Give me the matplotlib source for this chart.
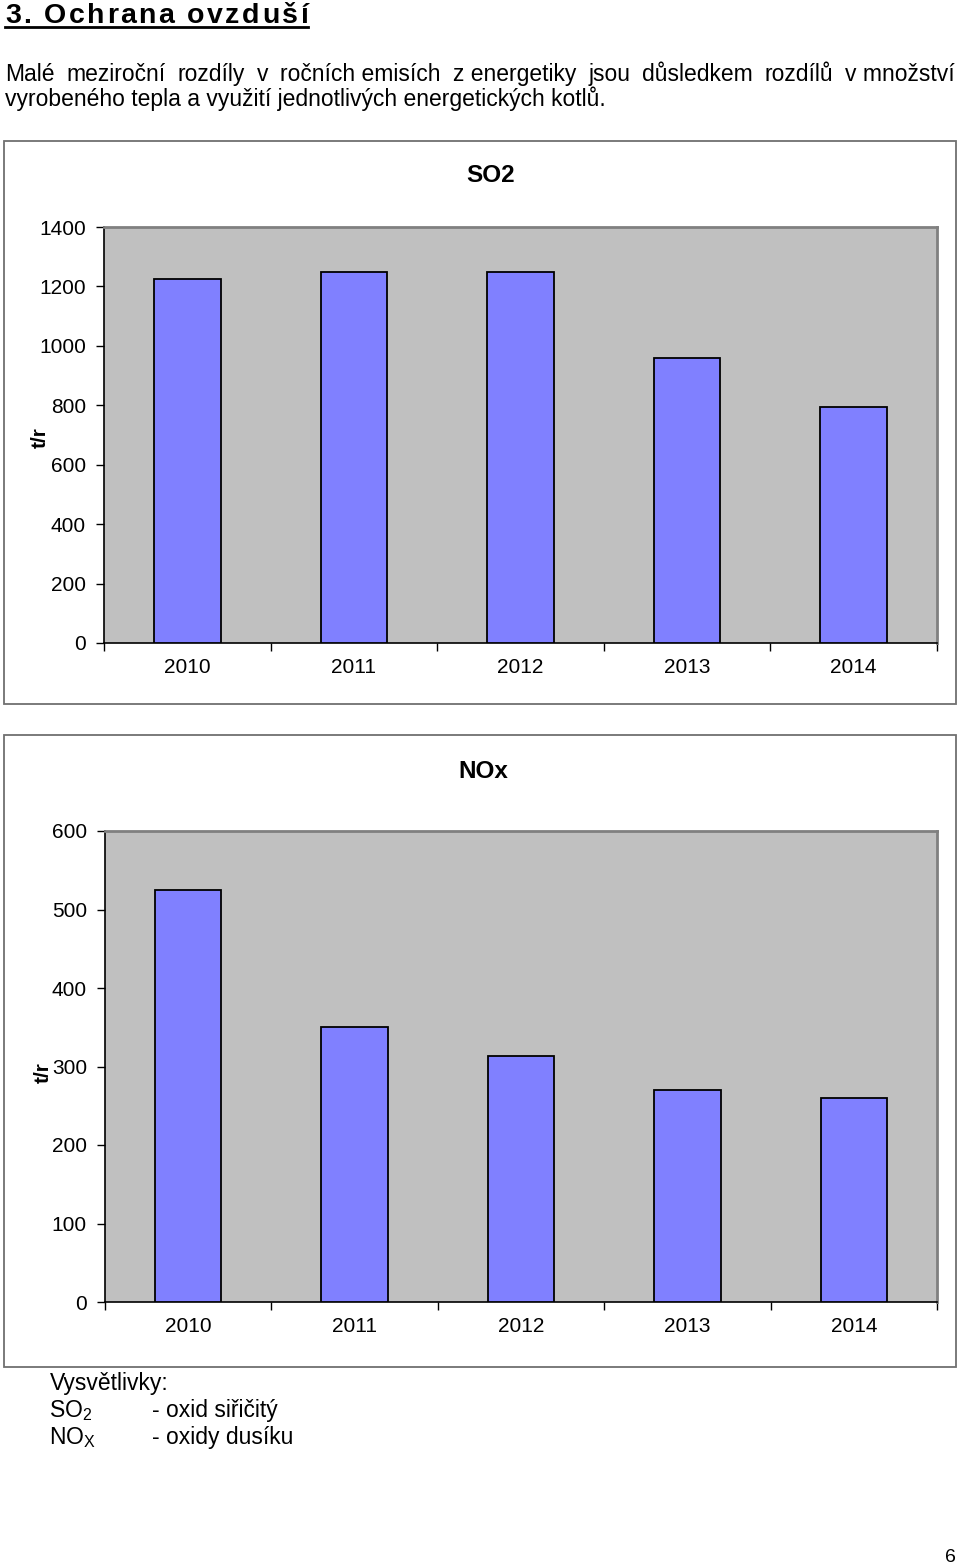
import matplotlib
matplotlib.use("Agg")
import matplotlib.pyplot as plt
from matplotlib.patches import Rectangle
from matplotlib.lines import Line2D

plt.rcParams['font.family'] = ['Liberation Sans', 'DejaVu Sans']
plt.rcParams['mathtext.fontset'] = 'custom'
plt.rcParams['mathtext.rm'] = 'Liberation Sans'
plt.rcParams['mathtext.it'] = 'Liberation Sans'

# ---- data ----
years = ['2010', '2011', '2012', '2013', '2014']
so2_values = [1225, 1249, 1249, 959, 794]
nox_values = [525, 350, 313, 270, 260]
so2_ticks = [0, 200, 400, 600, 800, 1000, 1200, 1400]
nox_ticks = [0, 100, 200, 300, 400, 500, 600]

heading = "3. Ochrana ovzduší"
para_line1 = ["Malé", "meziroční", "rozdíly", "v", "ročních emisích", "z energetiky",
              "jsou", "důsledkem", "rozdílů", "v množství"]
para_line2 = "vyrobeného tepla a využití jednotlivých energetických kotlů."

W, H = 960, 1565
fig = plt.figure(figsize=(W / 100, H / 100), dpi=100)
renderer = fig.canvas.get_renderer()


def fx(x):
    return x / W


def fy(y):
    return 1 - y / H


def text_width(s, **kw):
    t = fig.text(0, 0, s, **kw)
    bb = t.get_window_extent(renderer=renderer)
    t.remove()
    return bb.width


# ---- heading with letter spacing ----
hkw = dict(fontsize=20.5, color='black', fontweight='bold')
x_start, x_end = 5, 308
widths = [text_width(c, **hkw) for c in heading]
spacing = (x_end - x_start - sum(widths)) / (len(heading) - 1)
x = x_start
for c, w in zip(heading, widths):
    fig.text(fx(x), fy(23), c, va='baseline', ha='left', **hkw)
    x += w + spacing
fig.add_artist(Line2D([fx(5), fx(308)], [fy(26.5), fy(26.5)], color='black', lw=2,
                      transform=fig.transFigure))

# ---- justified paragraph ----
pkw = dict(fontsize=16.5, color='black')
ws = [text_width(w, **pkw) for w in para_line1]
gap = (955 - 5 - sum(ws)) / (len(ws) - 1)
x = 5
for word, w in zip(para_line1, ws):
    fig.text(fx(x), fy(81), word, va='baseline', ha='left', **pkw)
    x += w + gap
fig.text(fx(5), fy(106), para_line2, va='baseline', ha='left', **pkw)


# ---- charts ----
def chart(box, plot, values, ticks, title, title_xy, ylab_xy):
    bx0, by0, bx1, by1 = box
    fig.add_artist(Rectangle((fx(bx0), fy(by1)), fx(bx1 - bx0), (by1 - by0) / H,
                             transform=fig.transFigure, facecolor='white',
                             edgecolor='#707070', lw=1.3, zorder=0))
    px0, py0, px1, py1 = plot
    ax = fig.add_axes([fx(px0), fy(py1), fx(px1 - px0), (py1 - py0) / H])
    ax.set_facecolor('#C0C0C0')
    xs = list(range(len(values)))
    ax.bar(xs, values, width=0.4, color='#8080FF', edgecolor='black', lw=1.3, zorder=3)
    ax.set_xlim(-0.5, len(values) - 0.5)
    ax.set_ylim(ticks[0], ticks[-1])
    ax.set_yticks(ticks)
    ax.set_yticklabels([str(t) for t in ticks], fontsize=15)
    ax.tick_params(axis='y', direction='out', length=6, width=1, pad=7)
    ax.set_xticks([i - 0.5 for i in range(len(values) + 1)])
    ax.set_xticklabels([])
    ax.set_xticks(xs, minor=True)
    ax.set_xticklabels(years, minor=True, fontsize=15)
    ax.tick_params(axis='x', which='major', direction='out', length=6, width=1)
    ax.tick_params(axis='x', which='minor', length=0, pad=11)
    for s in ('left', 'bottom'):
        ax.spines[s].set_color('black')
        ax.spines[s].set_linewidth(1.2)
    for s in ('top', 'right'):
        ax.spines[s].set_color('#808080')
        ax.spines[s].set_linewidth(2)
    fig.text(fx(title_xy[0]), fy(title_xy[1]), title, ha='center', va='center',
             fontsize=17.5, fontweight='bold')
    fig.text(fx(ylab_xy[0]), fy(ylab_xy[1]), 't/r', ha='center', va='center',
             fontsize=15, fontweight='bold', rotation=90)
    return ax


chart((4, 141, 956, 704), (104, 227, 937, 643), so2_values, so2_ticks,
      'SO2', (491, 176), (40, 438))
chart((4, 735, 956, 1367), (105, 831, 937, 1302), nox_values, nox_ticks,
      'NOx', (483, 771), (43, 1073))

# ---- legend ----
lkw = dict(fontsize=16.5, color='black', va='baseline', ha='left')
fig.text(fx(50), fy(1390), 'Vysvětlivky:', **lkw)
fig.text(fx(49), fy(1417), r'SO$_\mathrm{2}$', **lkw)
fig.text(fx(152), fy(1417), '- oxid siřičitý', **lkw)
fig.text(fx(49), fy(1444), r'NO$_\mathrm{X}$', **lkw)
fig.text(fx(152), fy(1444), '- oxidy dusíku', **lkw)

fig.text(fx(950), fy(1562), '6', fontsize=14, ha='center', va='baseline')

fig.savefig('out.png', dpi=100)
